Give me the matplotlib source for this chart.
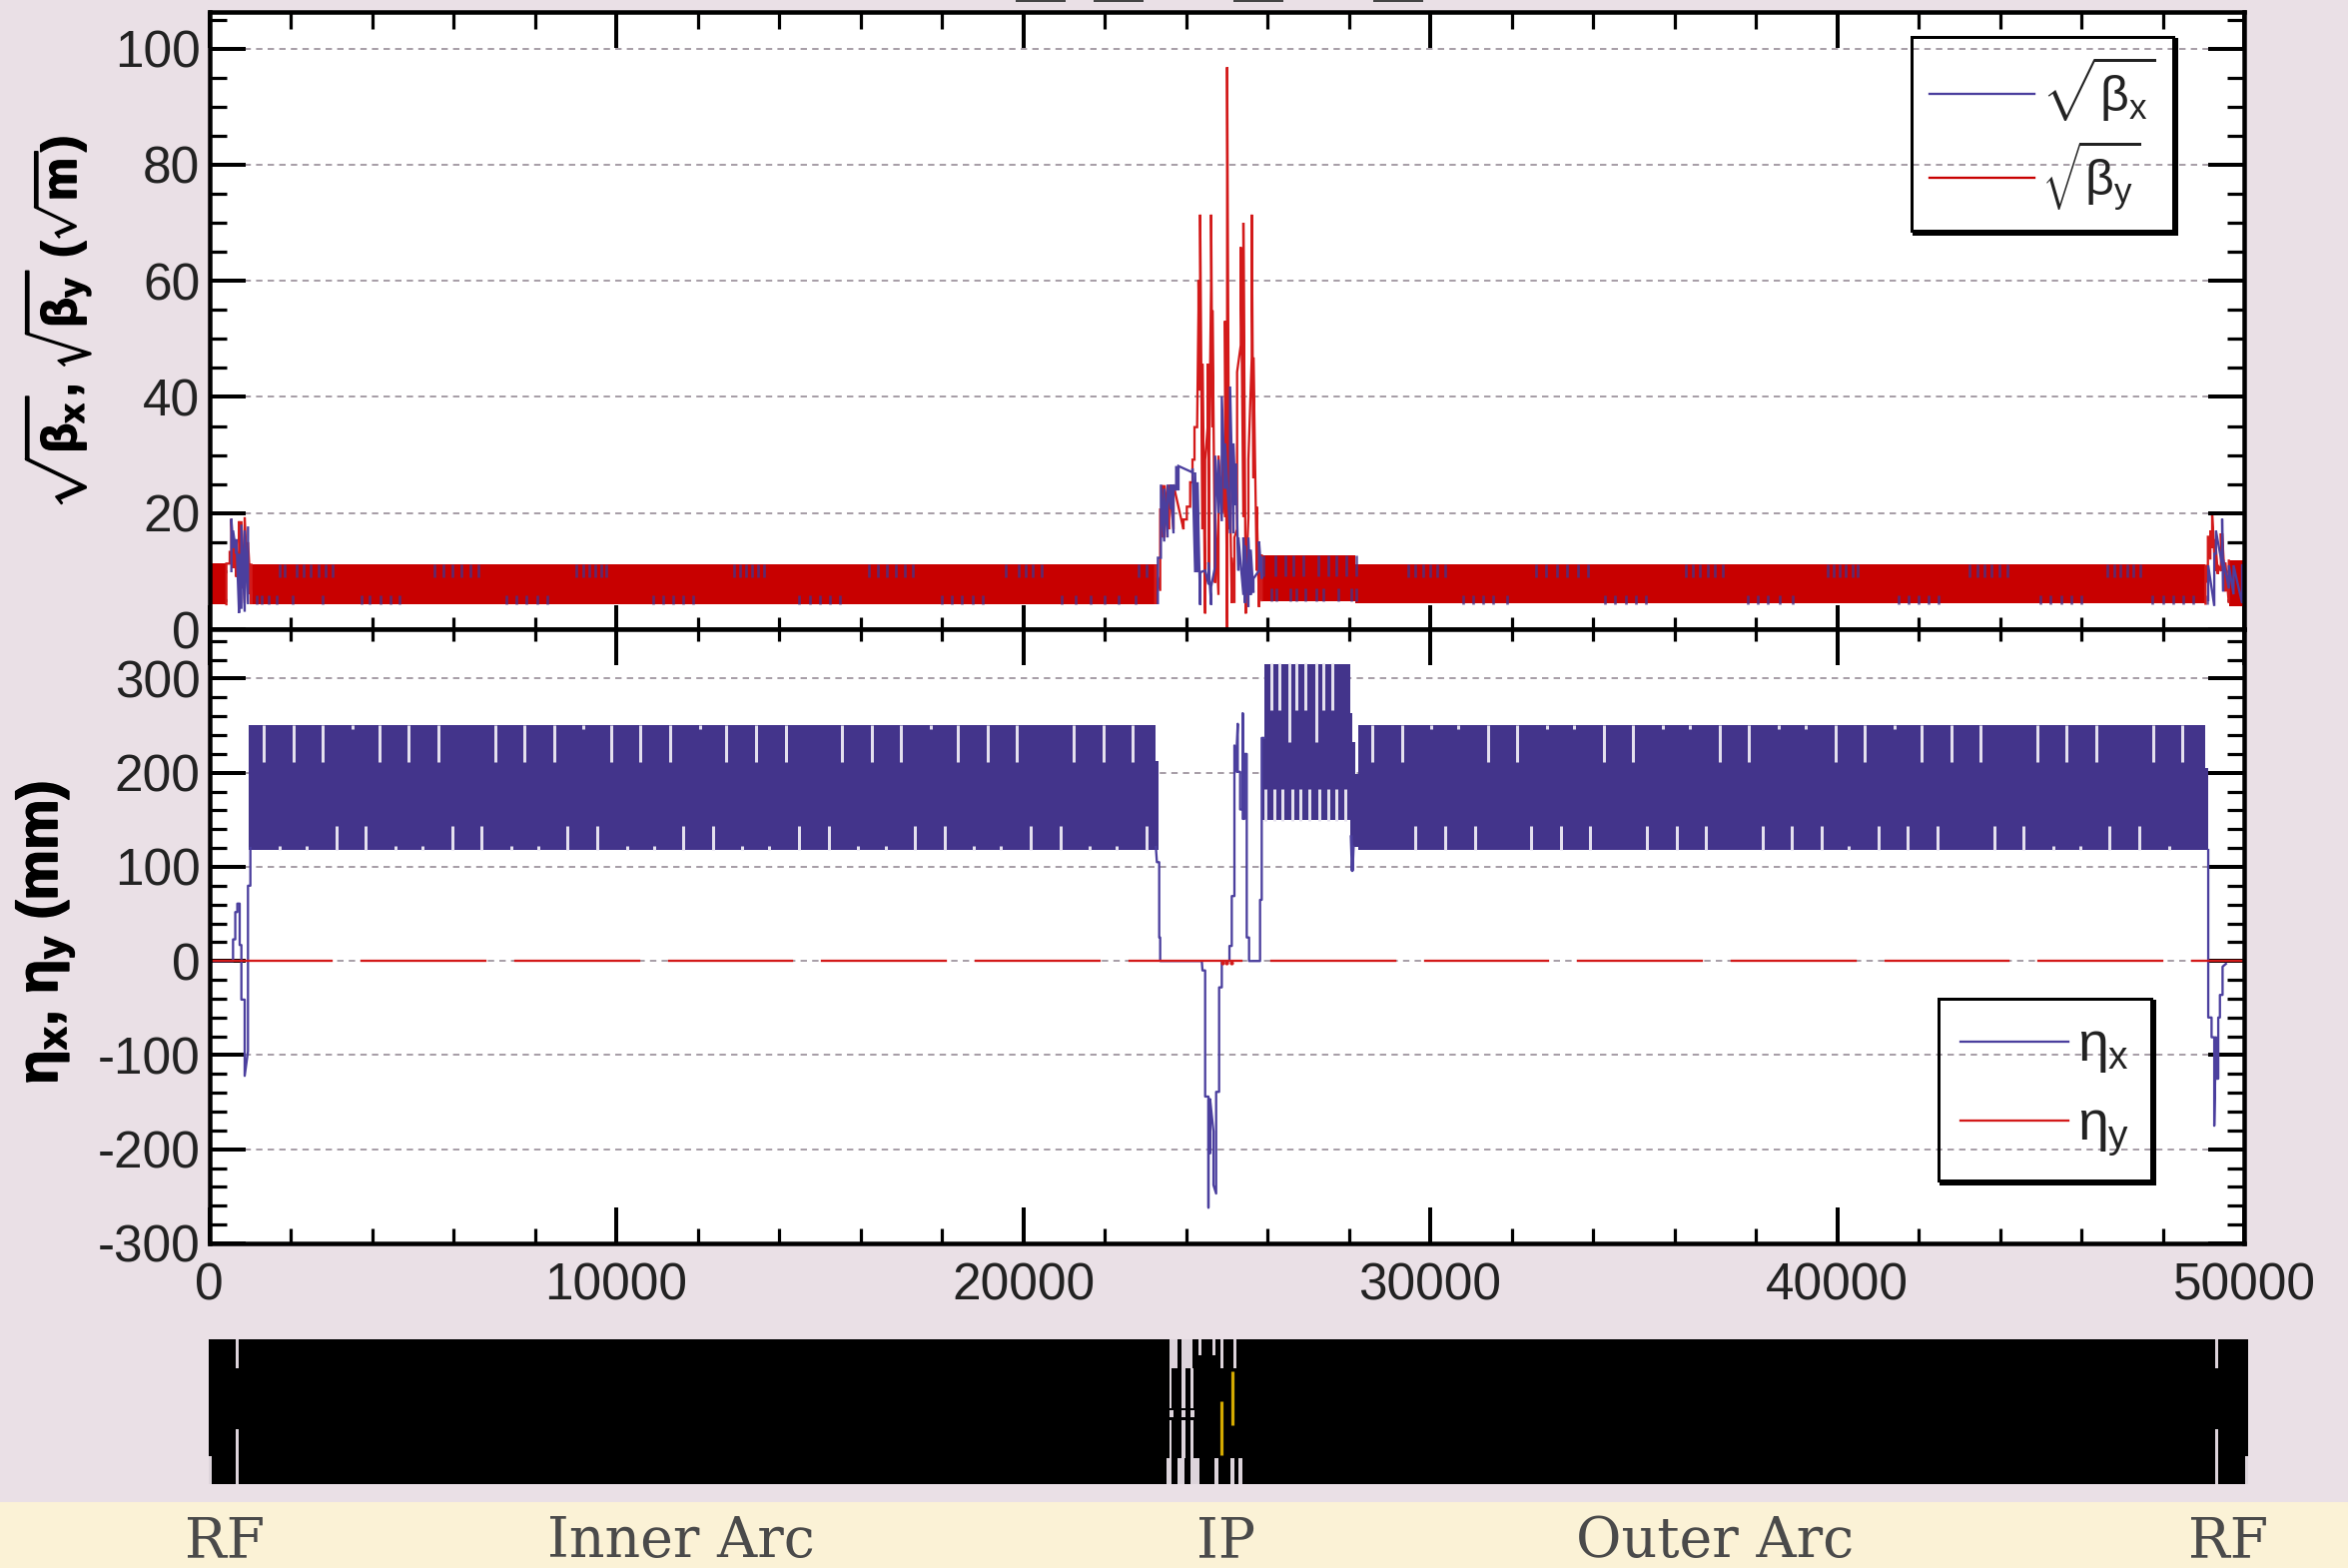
import numpy as np
import matplotlib
matplotlib.use("Agg")
import matplotlib.pyplot as plt
import matplotlib.patheffects as pe
from matplotlib.lines import Line2D
from matplotlib.ticker import MultipleLocator

plt.rcParams['font.family'] = ['Liberation Sans', 'DejaVu Sans']
plt.rcParams['mathtext.fontset'] = 'custom'
plt.rcParams['mathtext.rm'] = 'Liberation Sans'
plt.rcParams['mathtext.it'] = 'Liberation Sans'
plt.rcParams['mathtext.bf'] = 'Liberation Sans:bold'
plt.rcParams['mathtext.bfit'] = 'Liberation Sans:bold'
plt.rcParams['axes.unicode_minus'] = False

WIDTH = 2351
HEIGHT = 1570

BG = '#EAE0E6'
CREAM = '#FBF2D6'
BLUE = '#43348B'
BLUE_LINE = '#4B3F9E'
RED = '#C80000'
RED_LINE = '#D31A1A'
NOTCH = '#E4E0EE'
GRID = '#A89FA8'
INK = '#222222'

# ---- beta panel, value = sqrt(beta) ----
# start, end, low, high of the dense arc bands
red_bands = [(0, 421, 4.3, 11.3), (1035, 23300, 4.3, 11.1), (25861, 28152, 4.8, 12.7),
             (28152, 49051, 4.4, 11.1), (49624, 50000, 4.0, 11.8)]

blue_top_marks = [1730, 1853, 2139, 2320, 2500, 2680, 2860, 3040,
                  5530, 5750, 5970, 6190, 6410, 6620,
                  9030, 9180, 9330, 9480, 9630, 9750,
                  12890, 13040, 13190, 13340, 13490, 13620,
                  16210, 16430, 16650, 16870, 17090, 17300,
                  19563, 19880, 20060, 20240, 20462, 22835, 23040, 23243,
                  29460, 29640, 29820, 30000, 30180, 30370,
                  32590, 32850, 33110, 33370, 33630, 33870,
                  36270, 36450, 36630, 36810, 36990, 37180,
                  39770, 39920, 40070, 40220, 40370, 40500,
                  43260, 43440, 43620, 43800, 43980, 44180,
                  46640, 46800, 46960, 47120, 47280, 47458]
blue_bot_marks = [1157, 1300, 1450, 1650, 2050, 2790,
                  3734, 3950, 4200, 4450, 4675,
                  7300, 7550, 7800, 8050, 8300,
                  10900, 11150, 11400, 11650, 11900,
                  14500, 14750, 15000, 15250, 15500,
                  18000, 18250, 18500, 18750, 19000,
                  20953, 21300, 21650, 22000, 22350, 22753,
                  30800, 31050, 31300, 31550, 31900,
                  34300, 34550, 34800, 35050, 35300,
                  37800, 38050, 38300, 38600, 38900,
                  41500, 41750, 42000, 42250, 42500,
                  45000, 45250, 45500, 45750, 46000,
                  47743, 48000, 48250, 48500, 48750, 49090]
blue_mid_top = [25902, 26188, 26434, 26638, 26884, 27252, 27497, 27702, 27947, 28193]
blue_mid_bot = [26107, 26229, 26556, 26720, 26925, 27211, 27375, 27743, 28070, 28193]

# vertical strokes around the IP: position, bottom, top
red_ip_s = [23244, 23366, 23424, 23473, 23587, 23693, 23939, 24021, 24103, 24160, 24209, 24274, 24307,
            24348, 24405, 24471, 24536, 24569, 24618, 24651, 24716, 24798, 24896, 24961, 25011, 25060,
            25125, 25190, 25256, 25346, 25411, 25469, 25534, 25616, 25657, 25739, 25796, 25861]
red_ip_lo = [4.5, 6.6, 15.8, 15.8, 17.2, 17.2, 17.2, 18.9, 21.1, 25.3, 29.2, 34.8, 54.9,
             41.1, 17.2, 2.7, 35.1, 8.7, 60.1, 34.8, 8.0, 5.9, 20.0, 19.3, 0.0, 17.2,
             4.5, 4.5, 17.2, 48.9, 19.3, 2.7, 19.3, 46.8, 26.0, 10.1, 3.8, 4.8]
red_ip_hi = [11.1, 20.8, 24.8, 24.8, 24.9, 24.9, 18.9, 21.1, 25.3, 29.2, 34.8, 35.1, 60.1,
             71.4, 45.7, 29.2, 45.7, 29.9, 71.4, 54.9, 20.0, 29.9, 29.9, 53.1, 96.8, 32.7,
             12.3, 15.8, 44.3, 65.8, 70.0, 7.3, 29.2, 71.4, 46.8, 21.1, 10.1, 12.7]

blue_ip_s = [23310, 23384, 23465, 23547, 23629, 23693, 23759, 23816, 24160, 24225, 24282, 24348, 24471,
             24552, 24618, 24716, 24798, 24880, 24961, 25084, 25166, 25224, 25288, 25411, 25452, 25534,
             25591, 25657, 25796, 25861]
blue_ip_lo = [4.5, 12.3, 15.1, 15.8, 20.7, 16.5, 23.9, 23.9, 27.0, 9.8, 9.8, 4.2, 10.1,
              7.7, 4.2, 10.8, 20.0, 18.6, 24.2, 16.5, 16.5, 21.4, 10.1, 5.9, 4.5, 3.8,
              5.9, 6.3, 10.1, 8.7]
blue_ip_hi = [12.3, 24.9, 24.2, 24.9, 24.9, 24.9, 28.1, 28.1, 27.7, 27.0, 25.3, 9.8, 10.1,
              11.5, 7.3, 29.9, 29.2, 40.1, 32.0, 41.8, 32.0, 28.5, 15.8, 15.8, 14.4, 15.8,
              13.7, 8.7, 15.1, 12.3]

red_left_s = [421, 503, 544, 585, 667, 732, 790, 871, 953, 1035]
red_left_lo = [4.3, 11.3, 13.3, 10.5, 9.0, 8.0, 7.0, 4.5, 6.0, 4.3]
red_left_hi = [11.3, 13.3, 19.0, 16.5, 14.0, 18.6, 18.6, 19.3, 15.0, 11.1]
blue_left_s = [544, 585, 667, 732, 790, 871, 953]
blue_left_lo = [10.0, 14.0, 13.0, 2.8, 3.5, 3.0, 4.3]
blue_left_hi = [19.0, 17.0, 15.5, 13.0, 18.0, 17.0, 17.5]

red_right_s = [49051, 49110, 49170, 49215, 49290, 49355, 49430, 49460, 49540, 49624]
red_right_lo = [4.4, 8.0, 12.0, 14.0, 10.0, 9.5, 10.0, 10.0, 6.5, 4.5]
red_right_hi = [11.1, 16.1, 17.0, 19.6, 15.5, 11.0, 16.5, 16.5, 11.5, 11.8]
blue_right_s = [49118, 49266, 49307, 49460, 49485, 49625, 49740, 49950]
blue_right_lo = [5.0, 4.0, 13.0, 11.0, 6.5, 7.0, 6.0, 4.5]
blue_right_hi = [11.0, 13.0, 17.0, 19.0, 12.0, 11.0, 11.0, 11.0]

# ---- dispersion panel ----
eta_bands = [(969, 23244, 118.5, 250.5), (23244, 23325, 118.5, 212), (25845, 25927, 150, 238),
             (25927, 28030, 150, 315), (28030, 28090, 132, 263), (28090, 28152, 121, 233),
             (28152, 28233, 121, 199), (28233, 49051, 118.5, 250.5), (49051, 49110, 118.5, 205)]

upper_long = [1337, 2066, 2793, 4184, 4904, 5639, 7023, 7750, 8479, 9870, 10597, 11325,
              12707, 13436, 14164, 15554, 16282, 17002, 18400, 19121, 19849, 21239, 21968, 22696,
              28577, 29305, 31424, 32143, 34263, 34989, 37109, 37836, 39956, 40683, 42074, 42803,
              43529, 44920, 45640, 46368, 47760, 48486]
upper_short = [3514, 9198, 12054, 17737, 30032, 30695, 32879, 33542, 35725, 36381, 38565, 39227, 41404]
lower_long = [3121, 3848, 5968, 6695, 8805, 9534, 11644, 12373, 14498, 15220, 17337, 18066, 20184, 20913,
              23023, 29639, 30368, 31097, 32479, 33207, 33934, 35325, 36054, 36781, 38172, 38891, 39620,
              41011, 41738, 42466, 43858, 44585, 46695, 47424]
lower_short = [1730, 2393, 4577, 5239, 7423, 8086, 10263, 10932, 13100, 13762, 15946, 16618, 18793, 19455,
               21639, 22302, 40282, 45313, 45968, 48153]
mid_upper_short = [26090, 26287, 26720, 26941, 27383, 27595]
mid_upper_long = [26532, 27195]
mid_lower = [25959, 26164, 26368, 26614, 26818, 27031, 27268, 27497, 27702, 27923]

eta_left_s = [0, 585, 585, 640, 640, 690, 690, 748, 748, 790, 790, 871, 871, 952, 952, 1011, 1011]
eta_left_v = [0, 0, 23, 23, 52, 52, 61, 61, 17, 17, -41, -41, -122, -96, 80, 80, 120]

eta_ip_s = [23260, 23285, 23342, 23342, 23366, 23366, 23432, 24389, 24405, 24471, 24471, 24552, 24552, 24552,
            24593, 24593, 24593, 24675, 24675, 24741, 24741, 24814, 24814, 24880, 24880, 25068, 25068, 25125,
            25125, 25190, 25190, 25248, 25248, 25272, 25272, 25330, 25330, 25395, 25395, 25395, 25436, 25436,
            25493, 25493, 25550, 25550, 25820, 25820, 25861, 25861, 25927]
eta_ip_v = [121, 105, 105, 25, 25, 0, 0, 0, -10, -10, -144, -144, -262, -147,
            -147, -204, -147, -181, -238, -247, -139, -139, -28, -28, 0, 0, 16, 16,
            69, 69, 229, 201, 229, 252, 201, 201, 161, 161, 263, 151, 151, 220,
            220, 25, 25, 0, 0, 65, 65, 237, 237]

eta_kink_s = [28060, 28086, 28110]
eta_kink_v = [132, 96, 121]

eta_right_s = [49118, 49118, 49200, 49200, 49266, 49266, 49307, 49307, 49364, 49364, 49405, 49405, 49470, 49470, 49552]
eta_right_v = [118, -60, -60, -81, -81, -175, -81, -125, -125, -60, -60, -36, -36, -6, -3]

# gaps in the red zero line
eta_y_gaps = [(3014, 3750), (6785, 7520), (10556, 11290), (14327, 15060), (18098, 18830), (21870, 22614),
              (25370, 26107), (29133, 29870), (32900, 33640), (36675, 37410), (40445, 41180),
              (44216, 44950), (47988, 48724)]
eta_y_dips = [24900, 25000, 25110]

# ---- magnet strip: left, right, low, high of the gaps ----
strip_gaps = [(23619, 23824, 0.798, 1.0), (23922, 24187, 0.798, 1.0), (24331, 24413, 0.89, 1.0),
              (24675, 24756, 0.89, 1.0), (24871, 24945, 0.798, 1.0), (25190, 25272, 0.798, 1.0),
              (23619, 23677, 0.522, 0.798), (23619, 23677, 0.182, 0.441), (23922, 24020, 0.522, 0.798),
              (23922, 24020, 0.182, 0.441), (24127, 24208, 0.522, 0.798), (24127, 24208, 0.182, 0.441),
              (23619, 23720, 0.464, 0.51), (23922, 24020, 0.464, 0.51), (24127, 24225, 0.464, 0.51),
              (23538, 23660, 0.0, 0.182), (23824, 23987, 0.0, 0.182), (24143, 24347, 0.0, 0.182),
              (24724, 24822, 0.0, 0.182), (25116, 25214, 0.0, 0.182), (25321, 25419, 0.0, 0.182),
              (670, 745, 0.8, 1.0), (670, 745, 0.0, 0.38), (0, 86, 0.0, 0.19),
              (49310, 49385, 0.8, 1.0), (49310, 49385, 0.0, 0.38), (50040, 50120, 0.0, 0.19)]
strip_yellow_s = [24904, 25165]
strip_yellow_lo = [0.2, 0.407]
strip_yellow_hi = [0.572, 0.779]

region_labels = ['RF', 'Inner Arc', 'IP', 'Outer Arc', 'RF']
region_x_px = [225, 682, 1228, 1717, 2231]

title_stubs_px = [(1018, 1066), (1096, 1144), (1236, 1284), (1376, 1424)]

beta_ticks = [0, 20, 40, 60, 80, 100]
eta_ticks = [-300, -200, -100, 0, 100, 200, 300]
s_ticks = [0, 10000, 20000, 30000, 40000, 50000]

FONT_TICK = 37
PX = 72 / 100  # points per pixel at dpi 100


def add_axes_px(x0, y0, x1, y1):
    return fig.add_axes([x0 / WIDTH, 1 - y1 / HEIGHT, (x1 - x0) / WIDTH, (y1 - y0) / HEIGHT])


def strokes(ax, s, lo, hi, color):
    xs = []
    ys = []
    for a, b, c in zip(s, lo, hi):
        xs += [a, a]
        ys += [b, c]
    ax.plot(xs, ys, color=color, lw=2.3 * PX, solid_joinstyle='miter', zorder=3)


def style_axes(ax):
    ax.set_facecolor('white')
    ax.set_xlim(0, 50000)
    ax.set_axisbelow(True)
    ax.xaxis.set_major_locator(MultipleLocator(10000))
    ax.xaxis.set_minor_locator(MultipleLocator(2000))
    ax.tick_params(axis='y', which='major', direction='in', left=True, right=True,
                   length=36 * PX, width=4 * PX, labelsize=FONT_TICK, labelcolor=INK, pad=6.5)
    ax.tick_params(axis='y', which='minor', direction='in', left=True, right=True,
                   length=17 * PX, width=3.2 * PX)
    ax.grid(True, axis='y', which='major', color=GRID, lw=2 * PX, linestyle=(0, (3.2, 2.6)))
    for spine in ax.spines.values():
        spine.set_linewidth(4.5 * PX)
        spine.set_zorder(6)


def mid_ticks(ax, side, major_len, minor_len):
    sec = ax.secondary_xaxis(side)
    sec.set_xticks(s_ticks, labels=[])
    sec.xaxis.set_minor_locator(MultipleLocator(2000))
    sec.tick_params(axis='x', which='major', direction='in', length=major_len * PX, width=4 * PX)
    sec.tick_params(axis='x', which='minor', direction='in', length=minor_len * PX, width=3.2 * PX)
    sec.spines[side].set_visible(False)


def legend_box(ax, anchor, size, handle, spacing, pad):
    leg = ax.legend(loc='upper right', bbox_to_anchor=anchor, bbox_transform=fig.transFigure,
                    fontsize=size, frameon=True, fancybox=False, facecolor='none',
                    edgecolor='black', handlelength=handle, handletextpad=0.15, borderpad=pad,
                    labelspacing=spacing, borderaxespad=0)
    leg.get_frame().set_linewidth(3 * PX)
    leg.get_frame().set_alpha(None)
    leg.get_frame().set_facecolor('none')
    leg.set_zorder(10)
    for text in leg.get_texts():
        text.set_color(INK)
    return leg


fig = plt.figure(figsize=(WIDTH / 100, HEIGHT / 100), dpi=100, facecolor=BG)

# cream label strip
band = fig.add_axes([0, 0, 1, 1 - 1504 / HEIGHT])
band.set_facecolor(CREAM)
band.set_xticks([])
band.set_yticks([])
for spine in band.spines.values():
    spine.set_visible(False)

for a, b in title_stubs_px:
    fig.add_artist(Line2D([a / WIDTH, b / WIDTH], [1 - 0.5 / HEIGHT, 1 - 0.5 / HEIGHT], color='#444444', lw=2 * PX))

# top panel
ax1 = add_axes_px(209.5, 12, 2247, 630)
style_axes(ax1)
ax1.set_ylim(0, 106.3)
ax1.set_yticks(beta_ticks)
ax1.yaxis.set_minor_locator(MultipleLocator(5))
ax1.tick_params(axis='x', which='major', direction='in', top=True, bottom=False, labelbottom=False,
                length=36 * PX, width=4 * PX)
ax1.tick_params(axis='x', which='minor', direction='in', top=True, bottom=False, length=17 * PX, width=3.2 * PX)
mid_ticks(ax1, 'bottom', 24, 12)

for start, end, low, high in red_bands:
    ax1.fill_between([start, end], low, high, color=RED, lw=0, zorder=2)
ax1.vlines(blue_top_marks, 9.0, 11.1, color=BLUE, lw=2.6 * PX, alpha=0.8, zorder=3)
ax1.vlines(blue_bot_marks, 4.3, 5.8, color=BLUE, lw=2.6 * PX, alpha=0.8, zorder=3)
ax1.vlines(blue_mid_top, 9.1, 12.7, color=BLUE, lw=2.6 * PX, alpha=0.8, zorder=3)
ax1.vlines(blue_mid_bot, 4.8, 7.0, color=BLUE, lw=2.6 * PX, alpha=0.8, zorder=3)
strokes(ax1, red_left_s, red_left_lo, red_left_hi, RED_LINE)
strokes(ax1, blue_left_s, blue_left_lo, blue_left_hi, BLUE_LINE)
strokes(ax1, red_ip_s, red_ip_lo, red_ip_hi, RED_LINE)
strokes(ax1, blue_ip_s, blue_ip_lo, blue_ip_hi, BLUE_LINE)
strokes(ax1, red_right_s, red_right_lo, red_right_hi, RED_LINE)
strokes(ax1, blue_right_s, blue_right_lo, blue_right_hi, BLUE_LINE)

ax1.plot([], [], color=BLUE_LINE, lw=2.3 * PX, label=r'$\sqrt{\beta_{x}}$')
ax1.plot([], [], color=RED, lw=2.3 * PX, label=r'$\sqrt{\beta_{y}}$')
leg1 = legend_box(ax1, (2176 / WIDTH, 1 - 37 / HEIGHT), 36, 2.1, 0.3, 0.35)

# bottom panel
ax2 = add_axes_px(209.5, 630, 2247, 1245)
style_axes(ax2)
ax2.set_ylim(-300, 352.5)
ax2.set_yticks(eta_ticks)
ax2.yaxis.set_minor_locator(MultipleLocator(20))
ax2.tick_params(axis='x', which='major', direction='in', top=False, bottom=True,
                length=36 * PX, width=4 * PX, labelsize=FONT_TICK, labelcolor=INK, pad=13)
ax2.tick_params(axis='x', which='minor', direction='in', top=False, bottom=True, length=15 * PX, width=3.2 * PX)
ax2.set_xticks(s_ticks)
mid_ticks(ax2, 'top', 36, 12)

for start, end, low, high in eta_bands:
    ax2.fill_between([start, end], low, high, color=BLUE, lw=0, zorder=2)
ax2.vlines(upper_long, 211, 251, color=NOTCH, lw=3 * PX, zorder=3)
ax2.vlines(upper_short, 246, 251, color=NOTCH, lw=3 * PX, zorder=3)
ax2.vlines(lower_long, 118, 144, color=NOTCH, lw=3 * PX, zorder=3)
ax2.vlines(lower_short, 118, 122, color=NOTCH, lw=3 * PX, zorder=3)
ax2.vlines(mid_upper_short, 267, 316, color=NOTCH, lw=3 * PX, zorder=3)
ax2.vlines(mid_upper_long, 233, 316, color=NOTCH, lw=3 * PX, zorder=3)
ax2.vlines(mid_lower, 149, 183, color=NOTCH, lw=3 * PX, zorder=3)
ax2.plot(eta_left_s, eta_left_v, color=BLUE_LINE, lw=2.3 * PX, zorder=3, label=r'$\eta_{x}$')
ax2.plot(eta_ip_s, eta_ip_v, color=BLUE_LINE, lw=2.3 * PX, zorder=3)
ax2.plot(eta_kink_s, eta_kink_v, color=BLUE_LINE, lw=3 * PX, zorder=3)
ax2.plot(eta_right_s, eta_right_v, color=BLUE_LINE, lw=2.3 * PX, zorder=3)

# red zero line, broken where the reference shows gaps
line_s = [0]
for a, b in eta_y_gaps:
    line_s += [a, b]
line_s.append(50000)
for i in range(0, len(line_s), 2):
    ax2.plot(line_s[i:i + 2], [0, 0], color=RED_LINE, lw=2.3 * PX, zorder=4,
             label=r'$\eta_{y}$' if i == 0 else None)
ax2.plot(eta_y_dips, [-1.5] * len(eta_y_dips), 'o', color=RED_LINE, ms=2, zorder=4)
leg2 = legend_box(ax2, (2154 / WIDTH, 1 - 1000 / HEIGHT), 40, 1.95, 0.45, 0.4)

# axis titles
title_top = fig.text(56 / WIDTH, 1 - 324 / HEIGHT,
                     r'$\sqrt{\boldsymbol{\beta}_{\mathbf{x}}}$, $\sqrt{\boldsymbol{\beta}_{\mathbf{y}}}$ ($\sqrt{\mathbf{m}}$)',
                     rotation=90, ha='center', va='center', fontsize=35, fontweight='bold', color='black')
title_bot = fig.text(45 / WIDTH, 1 - 934 / HEIGHT,
                     r'$\boldsymbol{\eta}_{\mathbf{x}}$, $\boldsymbol{\eta}_{\mathbf{y}}$ (mm)',
                     rotation=90, ha='center', va='center', fontsize=41, fontweight='bold', color='black')
for title in (title_top, title_bot):
    title.set_path_effects([pe.withStroke(linewidth=1.2, foreground='black')])

# magnet strip
ax3 = add_axes_px(208.5, 1341, 2251, 1486)
ax3.set_facecolor('black')
ax3.set_xlim(0, 50120)
ax3.set_ylim(0, 1)
ax3.set_xticks([])
ax3.set_yticks([])
for spine in ax3.spines.values():
    spine.set_visible(False)
for left, right, low, high in strip_gaps:
    ax3.bar(left, high - low, width=right - left, bottom=low, align='edge', color='#DDD4DB', lw=0)
ax3.vlines(strip_yellow_s, strip_yellow_lo, strip_yellow_hi, color='#D4AA00', lw=3.2 * PX)

for name, x in zip(region_labels, region_x_px):
    fig.text(x / WIDTH, 1 - 1559 / HEIGHT, name, ha='center', va='baseline', fontsize=40,
             family='DejaVu Serif', color='#4A4A4A')

# legend shadows, drawn by hand since the frames are see-through
fig.canvas.draw()
for leg in (leg1, leg2):
    box = leg.get_frame().get_window_extent().transformed(fig.transFigure.inverted())
    dx = 3 / WIDTH
    dy = 3 / HEIGHT
    fig.add_artist(Line2D([box.x1 + dx, box.x1 + dx], [box.y1 - dy, box.y0 - dy], color='black', lw=4 * PX, zorder=20))
    fig.add_artist(Line2D([box.x0 + dx, box.x1 + dx], [box.y0 - dy, box.y0 - dy], color='black', lw=4 * PX, zorder=20))

fig.savefig('out.png', dpi=100, facecolor=BG)
